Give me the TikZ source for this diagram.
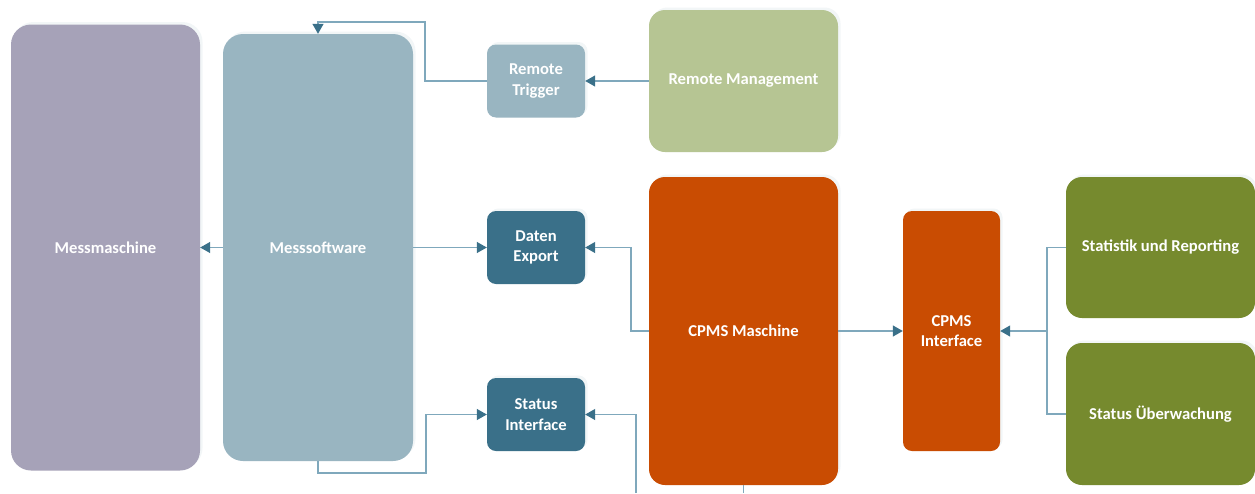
\documentclass[tikz,border=0pt]{standalone}
\usepackage{fontspec}
\setmainfont{Carlito}
\usetikzlibrary{arrows.meta,shadows}
\definecolor{cMess}{HTML}{A6A2B8}
\definecolor{cSoft}{HTML}{99B5C1}
\definecolor{cRemote}{HTML}{B6C593}
\definecolor{cDark}{HTML}{3A7089}
\definecolor{cOrange}{HTML}{C94C02}
\definecolor{cGreen}{HTML}{768A2E}
\definecolor{cLine}{HTML}{7FA8BC}
\definecolor{cTip}{HTML}{3A7089}
\tikzset{
  box/.style={rectangle, draw=none, text=white, align=center,
    font=\fontsize{16.6}{20.5}\selectfont\bfseries, inner sep=0pt,
    drop shadow={shadow xshift=2.5pt, shadow yshift=2.5pt, opacity=0.12, fill=cSoft}},
  link/.style={draw=cLine, line width=1.2pt},
  tip/.style={-{Triangle[length=10pt,width=11pt,color=cTip]}},
}
\begin{document}
\begin{tikzpicture}[x=1pt,y=-1pt]
\useasboundingbox[fill=white] (0,0) rectangle (1255,493);
% left column: machine and its software
\node[box, fill=cMess, rounded corners=20pt, minimum width=189pt, minimum height=446pt] (mm) at (105.5,247.5) {Messmaschine};
\node[box, fill=cSoft, rounded corners=20pt, minimum width=190pt, minimum height=427pt] (ms) at (318,247.5) {Messsoftware};
% interface boxes
\node[box, fill=cSoft, rounded corners=9pt, minimum width=98pt, minimum height=73pt] (rt) at (536,81) {Remote\\Trigger};
\node[box, fill=cDark, rounded corners=9pt, minimum width=98pt, minimum height=73pt] (de) at (536,247.5) {Daten\\Export};
\node[box, fill=cDark, rounded corners=9pt, minimum width=98pt, minimum height=73pt] (si) at (536,414.5) {Status\\Interface};
% remote management and CPMS
\node[box, fill=cRemote, rounded corners=16pt, minimum width=189pt, minimum height=142pt] (rm) at (743.5,81) {Remote Management};
\node[box, fill=cOrange, rounded corners=16pt, minimum width=189pt, minimum height=308pt] (cm) at (743.5,331) {CPMS Maschine};
\node[box, fill=cOrange, rounded corners=9pt, minimum width=97pt, minimum height=240pt] (ci) at (951.5,331) {CPMS\\Interface};
% reporting and monitoring
\node[box, fill=cGreen, rounded corners=16pt, minimum width=189pt, minimum height=141pt] (sr) at (1160.5,247.5) {Statistik und Reporting};
\node[box, fill=cGreen, rounded corners=16pt, minimum width=189pt, minimum height=142pt] (su) at (1160.5,414) {Status Überwachung};

% free ends at the lower edge
\coordinate (siOut) at (636,493);
\coordinate (cmOut) at (743.5,493);

% connectors
\draw[link, tip] (rm.west) -- (rt.east);
\draw[link, tip] (rt.west) -- (425,81) -- (425,22) -- (318,22) -- (ms.north);
\draw[link, tip] (ms.west) -- (mm.east);
\draw[link, tip] (ms.east) -- (de.west);
\draw[link, tip] (cm.west) -- (631,331) -- (631,247.5) -- (de.east);
\draw[link, tip] (cm.east) -- (ci.west);
\draw[link, tip] (sr.west) -- (1047,247.5) -- (1047,331) -- (ci.east);
\draw[link] (su.west) -- (1047,414) -- (1047,331);
\draw[link, tip] (ms.south) -- (318,473) -- (426,473) -- (426,414.5) -- (si.west);
\draw[link, tip] (siOut) -- (636,414.5) -- (si.east);
\draw[link] (cm.south) -- (cmOut);
\end{tikzpicture}
\end{document}
